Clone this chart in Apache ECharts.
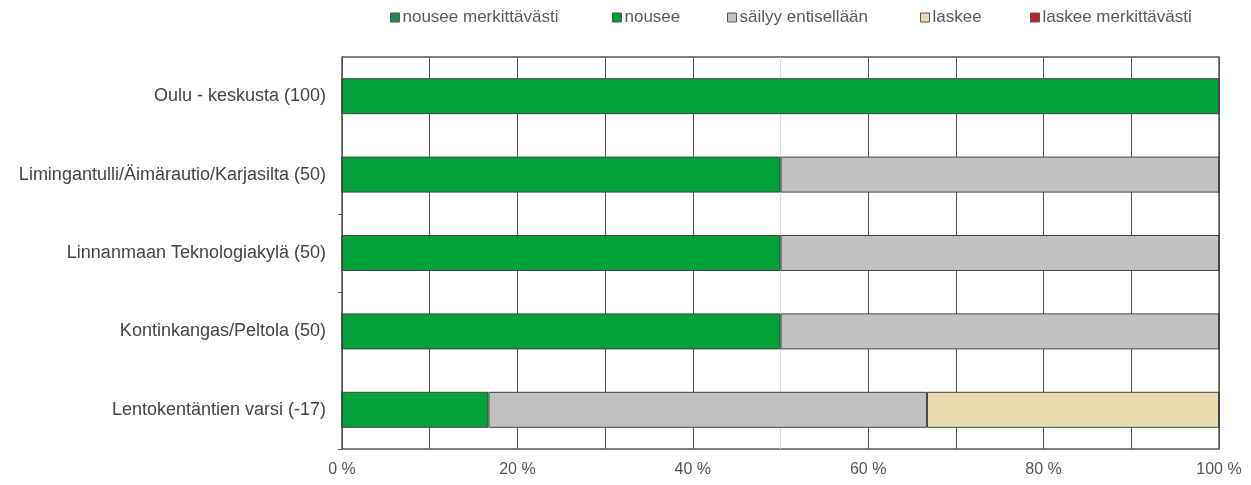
<!DOCTYPE html>
<html><head><meta charset="utf-8">
<script src="https://cdn.jsdelivr.net/npm/echarts@6/dist/echarts.min.js"></script>
<style>html,body{margin:0;padding:0;background:#fff}#c{width:1251px;height:485px}</style>
</head><body><div id="c"></div>
<script>
const categories = ["Oulu - keskusta (100)", "Limingantulli/Äimärautio/Karjasilta (50)", "Linnanmaan Teknologiakylä (50)", "Kontinkangas/Peltola (50)", "Lentokentäntien varsi (-17)"];
const seriesNames = ["nousee merkittävästi", "nousee", "säilyy entisellään", "laskee", "laskee merkittävästi"];
const seriesColors = ["#1e8a45", "#00a03a", "#c2c1bf", "#e8dcb0", "#c3202b"];
const nouseeMerkittavasti = [0, 0, 0, 0, 0];
const nousee = [100, 50, 50, 50, 16.7];
const sailyy = [0, 50, 50, 50, 50];
const laskee = [0, 0, 0, 0, 33.3];
const laskeeMerkittavasti = [0, 0, 0, 0, 0];
const values = [nouseeMerkittavasti, nousee, sailyy, laskee, laskeeMerkittavasti];
const legendLefts = [390, 612, 727, 920, 1030];

const chart = echarts.init(document.getElementById('c'));
const font = 'Liberation Sans, Arial, sans-serif';
chart.setOption({
  animation: false,
  textStyle: { fontFamily: font },
  legend: seriesNames.map((n, i) => ({
    top: 9, left: legendLefts[i], itemWidth: 9, itemHeight: 9, padding: 0,
    icon: 'rect',
    textStyle: { color: '#5a5a5a', fontSize: 17, fontFamily: font, padding: [0, 0, 0, -2] },
    data: [{ name: n, itemStyle: { borderColor: '#555', borderWidth: 1 } }]
  })),
  grid: { left: 342, right: 32, top: 57, bottom: 36, show: true, borderColor: '#555', borderWidth: 1.5 },
  xAxis: {
    type: 'value', min: 0, max: 100, interval: 10,
    axisLine: { show: false }, axisTick: { show: false },
    axisLabel: { color: '#555', fontSize: 16, margin: 13, fontFamily: font,
      formatter: v => (v % 20 === 0 ? v + ' %' : '') },
    splitLine: { show: true, lineStyle: { color: ['#555','#555','#555','#555','#555','#ddd','#555','#555','#555','#555','#555'], width: 1 } }
  },
  yAxis: {
    type: 'category', inverse: true, data: categories,
    axisLine: { show: true, lineStyle: { color: '#555' } },
    axisTick: { show: true, length: 4, interval: (i) => i === 2 || i === 3, lineStyle: { color: '#555' } },
    axisLabel: { color: '#444', fontSize: 18, margin: 16, fontFamily: font }
  },
  series: seriesNames.map((n, i) => ({
    name: n, type: 'bar', stack: 'total', barWidth: 36,
    data: values[i],
    itemStyle: { color: seriesColors[i], borderColor: '#444', borderWidth: 1 }
  }))
});
</script></body></html>
